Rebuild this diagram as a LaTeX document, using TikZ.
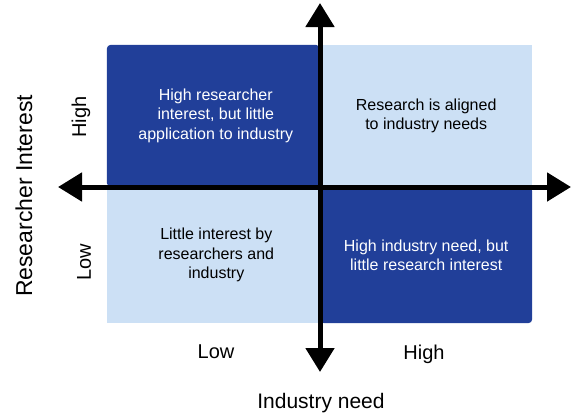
\documentclass[tikz,border=0pt]{standalone}
\usepackage{fontspec}
\setmainfont{Liberation Sans}
\usetikzlibrary{arrows.meta, positioning}

\definecolor{quaddark}{RGB}{33,63,153}
\definecolor{quadlight}{RGB}{204,224,245}

\begin{document}
\begin{tikzpicture}[x=1pt, y=-1pt]
    \tikzset{
        dark/.style = {rectangle, fill=quaddark, text=white, rounded corners=4pt, inner sep=0pt, align=center, font=\fontsize{16}{19.5}\selectfont},
        light/.style = {rectangle, fill=quadlight, text=black, inner sep=0pt, align=center, font=\fontsize{16}{19.5}\selectfont},
        axis/.style = {draw=black, line width=5pt, {Triangle[length=24pt, width=28pt]}-{Triangle[length=24pt, width=28pt]}},
        tick/.style = {font=\fontsize{20}{24}\selectfont},
        title/.style = {font=\fontsize{21}{25}\selectfont},
    }
    \useasboundingbox (0,0) rectangle (571,418);

    \coordinate (o) at (320,187);

    \node[dark, anchor=south east, minimum width=213pt, minimum height=142pt](hilo) at (o)
        {\hspace*{5pt}High researcher\\\hspace*{5pt}interest, but little\\\hspace*{5pt}application to industry};

    \node[light, anchor=south west, minimum width=212pt, minimum height=142pt](hihi) at (o)
        {Research is aligned\\to industry needs};

    \node[light, anchor=north east, minimum width=213pt, minimum height=136pt](lolo) at (o)
        {\hspace*{6pt}Little interest by\\\hspace*{6pt}researchers and\\\hspace*{6pt}industry};

    \node[dark, anchor=north west, minimum width=212pt, minimum height=136pt](lohi) at (o)
        {High industry need, but\\little research interest};

    % axes
    \coordinate (left) at (58,187);
    \coordinate (right) at (571,187);
    \coordinate (top) at (320,3);
    \coordinate (bottom) at (320,372);
    \path [axis] (left) -- (right);
    \path [axis] (bottom) -- (top);

    % tick labels
    \node[tick](xlow) at (216,352){Low};
    \node[tick](xhigh) at (424,354){High};
    \node[tick, rotate=90](yhigh) at (81,117){High};
    \node[tick, rotate=90](ylow) at (84,262){Low};

    % axis titles
    \node[title](xtitle) at (321,403){Industry need};
    \node[title, font=\fontsize{23}{27}\selectfont, rotate=90](ytitle) at (24,196){Researcher Interest};

\end{tikzpicture}
\end{document}
